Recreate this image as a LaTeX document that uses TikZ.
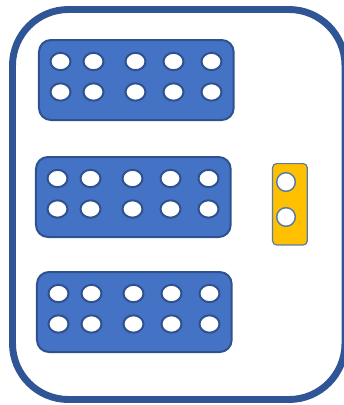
\documentclass[tikz,border=0pt]{standalone}
\usepackage{xcolor}
\usepackage{tikz}
\usetikzlibrary{positioning,shapes.geometric}
\definecolor{frameblue}{HTML}{2F5597}
\definecolor{blockblue}{HTML}{4472C4}
\definecolor{edgeblue}{HTML}{2F528F}
\definecolor{pinyellow}{HTML}{FFC000}
\definecolor{pinedge}{HTML}{5A7AA5}
\begin{document}
\begin{tikzpicture}[x=0.75pt,y=-0.75pt,
  block/.style={draw=edgeblue,fill=blockblue,line width=1.5pt,rounded corners=9pt,minimum width=146pt,minimum height=60pt,inner sep=0pt,anchor=north west},
  hole/.style={draw=edgeblue,fill=white,line width=1.5pt,ellipse,minimum width=15pt,minimum height=13pt,inner sep=0pt},
  pinbox/.style={draw=pinedge,fill=pinyellow,line width=0.9pt,rounded corners=3pt,minimum width=26pt,minimum height=61pt,inner sep=0pt,anchor=north west},
  pin/.style={draw=pinedge,fill=white,line width=1.1pt,circle,minimum size=14pt,inner sep=0pt}]
\useasboundingbox (0,0) rectangle (344,405);
% outer frame
\draw[frameblue,line width=5.2pt,rounded corners=42pt](12.5,9.5)rectangle(345,399.5);
% blocks of holes
\node[block](b1)at(38,39){};
\node[block](b2)at(35,156){};
\node[block](b3)at(36,271){};
\foreach \b in {b1,b2,b3}
  \foreach \dx in {22.5,55.5,97.5,135.5,173.5}
    \foreach \dy in {22.5,53}
      \node[hole]at([xshift=\dx*0.75pt,yshift=-\dy*0.75pt]\b.north west){};
% yellow part
\node[pinbox](y1)at(272,163){};
\node[pin](p1)at(286,182){};
\node[pin](p2)at(286,217){};
\end{tikzpicture}
\end{document}
